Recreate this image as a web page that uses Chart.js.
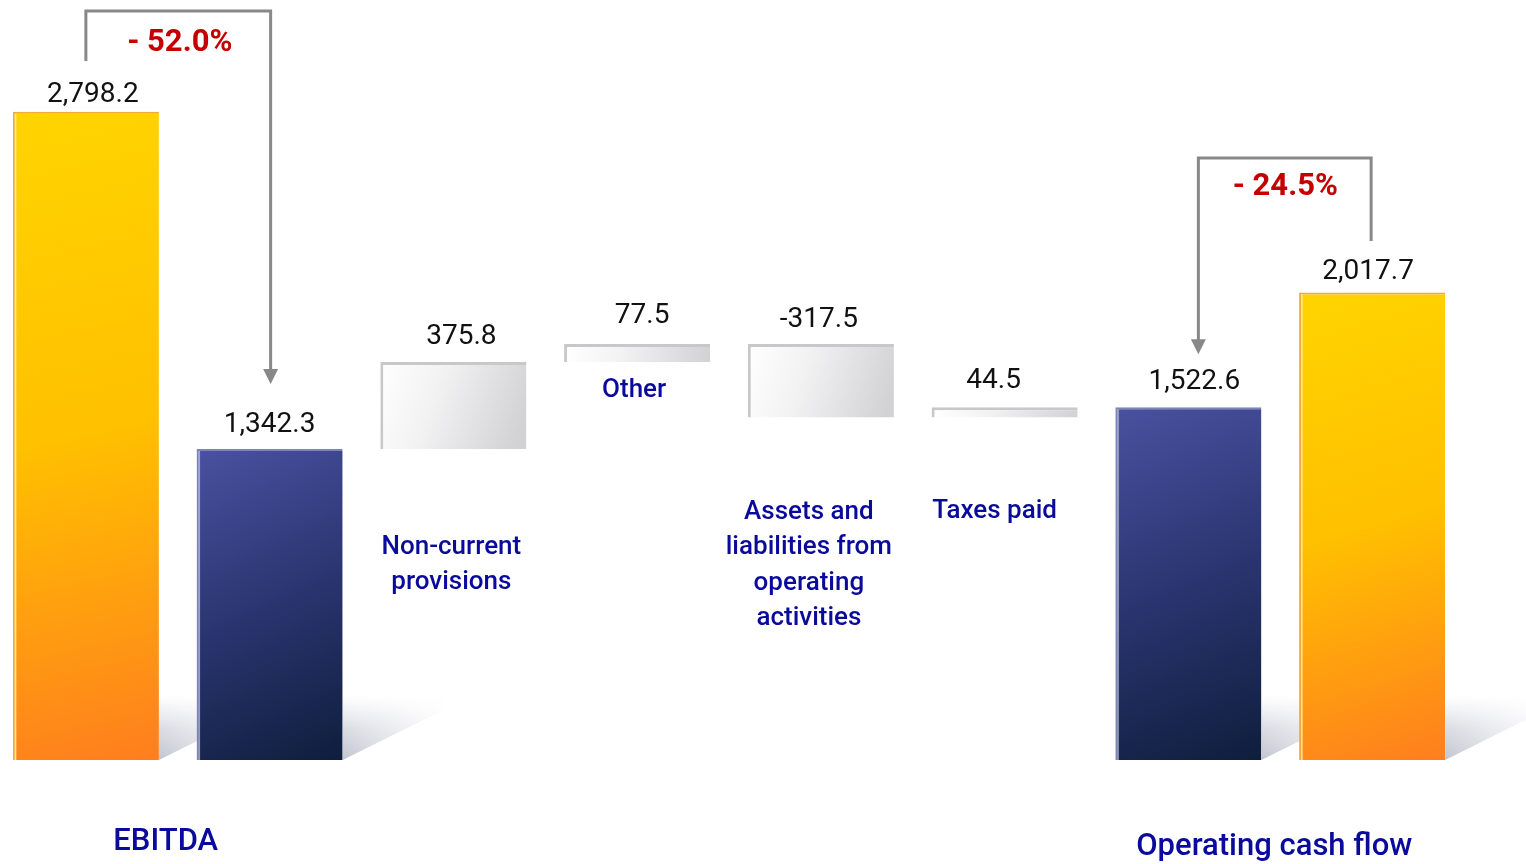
<!DOCTYPE html>
<html>
<head>
<meta charset="utf-8">
<script src="https://cdn.jsdelivr.net/npm/chart.js@4/dist/chart.umd.min.js"></script>
<style>
  html, body { margin: 0; padding: 0; background: #ffffff; overflow: hidden; }
  #wrap { position: absolute; left: -6px; top: 0; width: 1540px; height: 864px; }
</style>
</head>
<body>
<div id="wrap"><canvas id="c"></canvas></div>
<script>
// ---- data ----
const categories = ['EBITDA (prior year)', 'EBITDA', 'Non-current provisions', 'Other',
  'Assets and liabilities from operating activities', 'Taxes paid',
  'Operating cash flow', 'Operating cash flow (prior year)'];
const stepValues = [2798.2, 1342.3, 375.8, 77.5, -317.5, 44.5, 1522.6, 2017.7];
const barKinds = ['prior', 'total', 'step', 'step', 'step', 'step', 'total', 'prior'];
const valueLabels = ['2,798.2', '1,342.3', '375.8', '77.5', '-317.5', '44.5', '1,522.6', '2,017.7'];
const categoryLabels = [[], [], ['Non-current', 'provisions'], ['Other'],
  ['Assets and', 'liabilities from', 'operating', 'activities'], ['Taxes paid'], [], []];
const groupLabels = ['EBITDA', 'Operating cash flow'];
const changeLabels = ['- 52.0%', '- 24.5%'];

// floating ranges for the waterfall, built from the step values
const ranges = [];
let running = 0;
stepValues.forEach((v, i) => {
  if (barKinds[i] === 'step') {
    ranges.push([running, running + v]);
    running += v;
  } else {
    ranges.push([0, v]);
    if (barKinds[i] === 'total') running = v;
  }
});

function barGeom(chart, i) {
  const xs = chart.scales.x, ys = chart.scales.y;
  const cw = xs.width / categories.length;
  const w = cw * 0.795;
  const cx = xs.getPixelForValue(i);
  const a = ys.getPixelForValue(ranges[i][0]), b = ys.getPixelForValue(ranges[i][1]);
  return { l: cx - w / 2, r: cx + w / 2, t: Math.min(a, b), btm: Math.max(a, b) };
}

function fillFor(ctx) {
  const chart = ctx.chart;
  if (!chart.chartArea) return '#ccc';
  const i = ctx.dataIndex;
  const g = barGeom(chart, i);
  const c = chart.ctx;
  const kind = barKinds[i];
  let grad;
  if (kind === 'prior') {
    grad = c.createLinearGradient(g.l, g.t, g.r, g.btm);
    grad.addColorStop(0, '#FFD400');
    grad.addColorStop(0.5, '#FFC000');
    grad.addColorStop(1, '#FF7E1E');
  } else if (kind === 'total') {
    grad = c.createLinearGradient(g.l, g.t, g.r, g.btm);
    grad.addColorStop(0, '#4A51A0');
    grad.addColorStop(0.5, '#2A3570');
    grad.addColorStop(1, '#0E1E3C');
  } else {
    grad = c.createLinearGradient(g.l, g.t, g.r, g.t + (g.btm - g.t) * 0.6);
    grad.addColorStop(0, '#FFFFFF');
    grad.addColorStop(0.4, '#F2F2F3');
    grad.addColorStop(1, '#D2D2D5');
  }
  return grad;
}

const borderColors = barKinds.map(k => k === 'prior' ? '#F6A83A' : k === 'total' ? '#7D84B8' : '#C8C8CA');
const borderWidths = barKinds.map(k => k === 'step' ? { top: 3, left: 3, right: 0, bottom: 0 } : { top: 2, left: 2, right: 0, bottom: 0 });

const decorPlugin = {
  id: 'decor',
  beforeDatasetsDraw(chart) {
    const c = chart.ctx;
    c.save();
    barKinds.forEach((k, i) => {
      if (k === 'step') return;
      const g = barGeom(chart, i);
      const R = g.r, B = g.btm;
      c.save();
      c.beginPath();
      c.moveTo(R, B);
      c.lineTo(R, B - 64);
      c.lineTo(R + 100, B - 64);
      c.lineTo(R + 100, B - 50);
      c.closePath();
      c.clip();
      const gv = c.createLinearGradient(0, B - 64, 0, B);
      gv.addColorStop(0, 'rgba(200,202,212,0)');
      gv.addColorStop(0.5, 'rgba(190,193,205,0.55)');
      gv.addColorStop(1, 'rgba(178,181,195,0.8)');
      c.fillStyle = gv;
      c.fillRect(R, B - 64, 100, 64);
      const gh = c.createLinearGradient(R, 0, R + 100, 0);
      gh.addColorStop(0, 'rgba(255,255,255,0)');
      gh.addColorStop(1, 'rgba(255,255,255,0.9)');
      c.fillStyle = gh;
      c.fillRect(R, B - 64, 100, 64);
      c.restore();
    });
    c.restore();
  },
  afterDatasetsDraw(chart) {
    const c = chart.ctx;
    c.save();
    // highlight strip on left of totals
    barKinds.forEach((k, i) => {
      if (k === 'step') return;
      const g = barGeom(chart, i);
      c.fillStyle = k === 'prior' ? 'rgba(255,240,170,0.9)' : 'rgba(200,205,230,0.7)';
      c.fillRect(g.l + 2, g.t + 2, 1.5, g.btm - g.t - 2);
    });
    // value labels
    c.fillStyle = '#111111';
    c.font = '400 28px Roboto';
    c.textAlign = 'center';
    c.textBaseline = 'middle';
    const dx = [7, 0, 8, 5, -2, -11, 6, -4];
    const gap = [17, 24, 25, 28, 24, 26, 25, 20];
    valueLabels.forEach((t, i) => {
      const g = barGeom(chart, i);
      c.fillText(t, (g.l + g.r) / 2 + dx[i], g.t - gap[i]);
    });
    // category labels
    c.fillStyle = '#0A0A9C';
    c.font = '500 26px Roboto';
    const labelTop = [0, 0, 547, 390, 512, 511, 0, 0];
    const labelDx = [0, 0, -2, -3, -12, -10, 0, 0];
    categoryLabels.forEach((lines, i) => {
      if (!lines.length) return;
      const g = barGeom(chart, i);
      const cx = (g.l + g.r) / 2;
      lines.forEach((ln, j) => c.fillText(ln, cx + labelDx[i], labelTop[i] + j * 35.5));
    });
    const g0 = barGeom(chart, 0), g1 = barGeom(chart, 1);
    const g6 = barGeom(chart, 6), g7 = barGeom(chart, 7);
    c.font = '500 31px Roboto';
    c.fillText(groupLabels[0], (g0.l + g1.r) / 2 - 12, 842);
    c.fillText(groupLabels[1], (g6.l + g7.r) / 2 - 6, 847);

    // brackets
    c.strokeStyle = '#888888';
    c.fillStyle = '#888888';
    c.lineWidth = 3;
    function bracket(xa, ya, xb, yTop, tipY) {
      c.beginPath();
      c.moveTo(xa, ya);
      c.lineTo(xa, yTop);
      c.lineTo(xb, yTop);
      c.lineTo(xb, tipY - 14);
      c.stroke();
      c.beginPath();
      c.moveTo(xb - 7.5, tipY - 15);
      c.lineTo(xb + 7.5, tipY - 15);
      c.lineTo(xb, tipY);
      c.closePath();
      c.fill();
    }
    const c0 = (g0.l + g0.r) / 2, c1 = (g1.l + g1.r) / 2;
    const c6 = (g6.l + g6.r) / 2, c7 = (g7.l + g7.r) / 2;
    bracket(c0, 61, c1 + 1, 11, g1.t - 65);
    bracket(c7 - 1, 241, c6 + 10, 158, g6.t - 53);

    c.fillStyle = '#C40000';
    c.font = '700 31px Roboto';
    c.fillText(changeLabels[0], (c0 + c1) / 2 + 2, 43);
    c.fillText(changeLabels[1], (c6 + c7) / 2 + 5, 187);
    c.restore();
  }
};

new Chart(document.getElementById('c'), {
  type: 'bar',
  data: {
    labels: categories,
    datasets: [{
      data: ranges,
      backgroundColor: fillFor,
      borderColor: borderColors,
      borderWidth: borderWidths,
      borderSkipped: false,
      barPercentage: 0.795,
      categoryPercentage: 1.0
    }]
  },
  options: {
    responsive: true,
    maintainAspectRatio: false,
    animation: false,
    layout: { padding: { left: 0, right: 70, top: 0, bottom: 104 } },
    plugins: { legend: { display: false }, tooltip: { enabled: false } },
    scales: {
      x: { display: false, offset: true, grid: { display: false } },
      y: { display: false, min: 0, max: 3280, grid: { display: false } }
    }
  },
  plugins: [decorPlugin]
});
</script>
</body>
</html>
